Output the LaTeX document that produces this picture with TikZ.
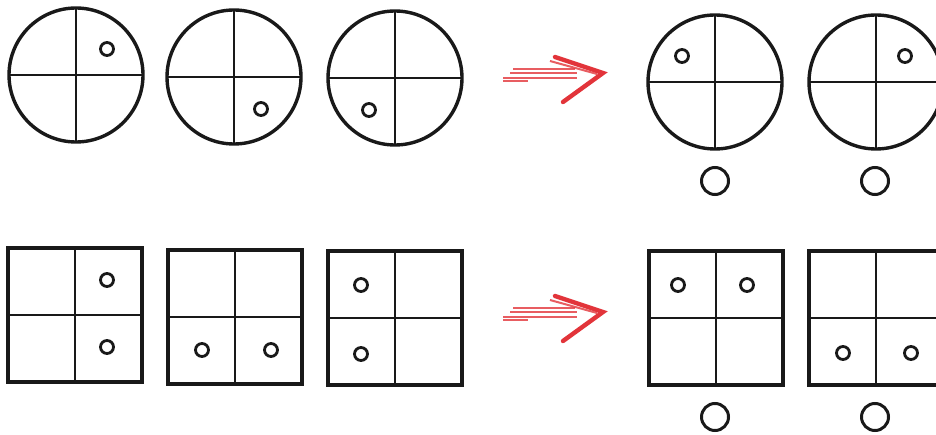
\documentclass[tikz,border=0pt]{standalone}
\definecolor{penred}{RGB}{226,52,58}
\begin{document}
\begin{tikzpicture}[x=1pt,y=-1pt,
  rim/.style={draw=black!90,line width=3.4pt},
  sqrim/.style={draw=black!90,line width=4pt},
  cross/.style={draw=black!90,line width=2.8pt},
  dot/.style={circle,draw=black!90,line width=2.8pt,minimum size=13pt,inner sep=0pt},
  ball/.style={circle,draw=black!90,line width=3pt,minimum size=27pt,inner sep=0pt},
  redthin/.style={draw=penred,line width=2pt,opacity=0.8},
  redhead/.style={draw=penred,line width=4.4pt,line cap=round}]
\useasboundingbox (0,0) rectangle (936,435);
\begin{scope}
\clip (0,0) rectangle (936,435);
% circles row
\foreach \n/\cx/\cy in {c1/76/75, c2/234/77, c3/395/78, c4/715/82, c5/876/82}{
  \coordinate (\n) at (\cx,\cy);
  \draw[rim] (\n) circle (67);
  \draw[cross] ([xshift=-67pt]\n) -- ([xshift=67pt]\n);
  \draw[cross] ([yshift=-67pt]\n) -- ([yshift=67pt]\n);
}
\node[dot] (d1) at (107,49) {};
\node[dot] (d2) at (261,109) {};
\node[dot] (d3) at (369,110) {};
\node[dot] (d4) at (682,56) {};
\node[dot] (d5) at (905,56) {};
\node[ball] (b1) at (715,181) {};
\node[ball] (b2) at (875,181) {};
% squares row
\foreach \n/\cx/\cy in {s1/75/315, s2/235/317, s3/395/318, s4/716/318, s5/876/318}{
  \coordinate (\n) at (\cx,\cy);
  \draw[sqrim] ([shift={(-67pt,-67pt)}]\n) rectangle ([shift={(67pt,67pt)}]\n);
  \draw[cross] ([xshift=-67pt]\n) -- ([xshift=67pt]\n);
  \draw[cross] ([yshift=-67pt]\n) -- ([yshift=67pt]\n);
}
\node[dot] (e1) at (107,280) {};
\node[dot] (e2) at (107,347) {};
\node[dot] (e3) at (202,350) {};
\node[dot] (e4) at (271,350) {};
\node[dot] (e5) at (361,285) {};
\node[dot] (e6) at (361,354) {};
\node[dot] (e7) at (678,285) {};
\node[dot] (e8) at (747,285) {};
\node[dot] (e9) at (843,353) {};
\node[dot] (e10) at (911,353) {};
\node[ball] (b3) at (715,417) {};
\node[ball] (b4) at (875,417) {};
% red arrows
\foreach \n/\oy in {a1/0, a2/239}{
  \begin{scope}[yshift=-\oy pt]
  \coordinate (\n) at (603,73);
  \draw[redthin] (513,69) -- (575,69);
  \draw[redthin] (510,73) -- (577,73);
  \draw[redthin] (503,78) -- (577,78);
  \draw[redthin] (503,81) -- (528,81);
  \draw[redthin] (550,61) -- (597,74);
  \draw[redhead] (555,57) -- (\n) -- (563,102);
  \end{scope}
}
\end{scope}
\end{tikzpicture}
\end{document}
